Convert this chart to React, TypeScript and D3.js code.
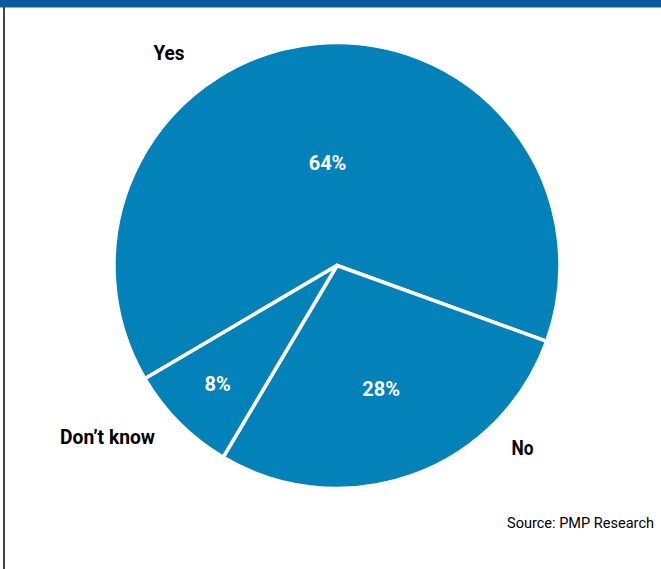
import React from "react";
import * as d3 from "d3";

const categories = ["Yes", "No", "Don’t know"];
const values = [64, 28, 8];
const valueLabels = ["64%", "28%", "8%"];
const sourceText = "Source: PMP Research";

const W = 661;
const H = 569;
const cx = 337;
const cy = 265.5;
const R = 223;
const startDeg = -120.5;

const FONT = "Roboto, 'Liberation Sans', sans-serif";

export default function App() {
  const pie = d3
    .pie<number>()
    .sort(null)
    .value((d) => d)
    .startAngle((startDeg * Math.PI) / 180)
    .endAngle((startDeg * Math.PI) / 180 + 2 * Math.PI);
  const arcs = pie(values);
  const arc = d3.arc<d3.PieArcDatum<number>>().innerRadius(0).outerRadius(R);

  const innerR = [0.46, 0.587, 0.755];

  return (
    <svg
      width={W}
      height={H}
      style={{ position: "absolute", left: 0, top: 0, background: "#fff" }}
    >
      <rect x={0} y={0} width={W} height={H} fill="#fff" />
      <rect x={0} y={0} width={W} height={7} fill="#0b5a9c" />
      <rect x={0} y={7} width={W} height={1} fill="#9aa9b8" />
      <rect x={3} y={7} width={2} height={H - 7} fill="#444" />
      <g transform={`translate(${cx},${cy})`}>
        {arcs.map((a, i) => (
          <path key={i} d={arc(a) || ""} fill="#0381b9" stroke="#fff" strokeWidth={3.5} strokeLinejoin="miter" />
        ))}
        {arcs.map((a, i) => {
          const mid = (a.startAngle + a.endAngle) / 2;
          const r = R * innerR[i];
          const x = Math.sin(mid) * r;
          const y = -Math.cos(mid) * r;
          return (
            <text
              key={"v" + i}
              x={x}
              y={y}
              textAnchor="middle"
              dominantBaseline="central"
              fill="#fff"
              fontFamily={FONT}
              fontWeight="bold"
              fontSize={20}
            >
              {valueLabels[i]}
            </text>
          );
        })}
      </g>
      <text x={169} y={60} textAnchor="middle" fontFamily={FONT} fontWeight="bold" fontSize={20} fill="#000" textLength={31} lengthAdjust="spacingAndGlyphs">
        {categories[0]}
      </text>
      <text x={522.5} y={455} textAnchor="middle" fontFamily={FONT} fontWeight="bold" fontSize={20} fill="#000" textLength={22} lengthAdjust="spacingAndGlyphs">
        {categories[1]}
      </text>
      <text x={107.5} y={444} textAnchor="middle" fontFamily={FONT} fontWeight="bold" fontSize={20.5} fill="#000" textLength={95} lengthAdjust="spacingAndGlyphs">
        {categories[2]}
      </text>
      <text x={654} y={528} textAnchor="end" fontFamily={FONT} fontSize={15} fill="#000" textLength={147} lengthAdjust="spacingAndGlyphs">
        {sourceText}
      </text>
    </svg>
  );
}
